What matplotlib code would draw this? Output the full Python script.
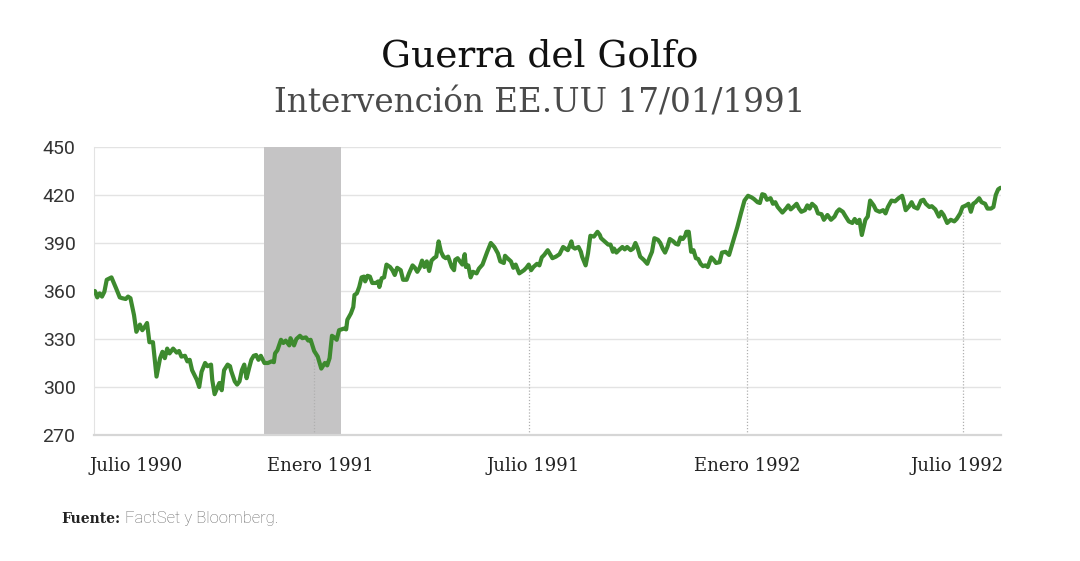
import numpy as np
import pandas as pd
import matplotlib.pyplot as plt
from matplotlib import transforms

# días contados desde el 1 de enero de 1991 y valor del índice
dias = [-185, -183, -181, -179, -177, -175, -171, -169, -167, -164, -162, -159, -157, -155,
        -152, -150, -147, -145, -143, -141, -139, -136, -133, -130, -128, -126, -124, -122,
        -119, -116, -114, -112, -109, -107, -105, -103, -101, -99, -97, -95, -92, -90, -87,
        -86, -84, -82, -80, -78, -76, -73, -71, -70, -67, -65, -63, -61, -59, -57, -55, -53,
        -51, -49, -47, -45, -42, -39, -36, -34, -33, -31, -28, -26, -24, -21, -20, -17, -15,
        -12, -10, -7, -5, -3, 0, 3, 6, 9, 11, 13, 15, 17, 19, 21, 25, 27, 28, 31, 33, 34, 36,
        38, 40, 42, 43, 45, 47, 49, 52, 54, 55, 57, 59, 61, 64, 66, 68, 70, 73, 75, 78, 80,
        83, 85, 87, 89, 91, 93, 95, 97, 99, 101, 103, 105, 107, 109, 111, 113, 116, 118, 119,
        121, 123, 125, 127, 128, 130, 132, 134, 137, 139, 142, 144, 146, 149, 152, 155, 157,
        160, 161, 163, 166, 168, 170, 173, 175, 177, 179, 181, 183, 185, 188, 190, 192, 194,
        197, 199, 201, 204, 207, 210, 212, 214, 217, 218, 220, 223, 225, 226, 229, 231, 233,
        236, 239, 241, 242, 245, 248, 250, 252, 253, 255, 257, 260, 262, 264, 267, 269, 271,
        273, 275, 278, 281, 283, 285, 287, 290, 292, 294, 296, 298, 300, 303, 305, 307, 309,
        311, 313, 314, 316, 318, 320, 322, 324, 326, 328, 330, 332, 335, 337, 339, 342, 344,
        347, 350, 353, 357, 360, 363, 366, 369, 371, 374, 376, 378, 380, 382, 385, 387, 389,
        391, 395, 398, 400, 402, 405, 407, 409, 411, 414, 416, 418, 420, 423, 425, 428, 430,
        433, 436, 439, 441, 443, 446, 448, 451, 454, 456, 458, 460, 462, 465, 467, 469, 472,
        474, 477, 480, 482, 484, 487, 490, 493, 496, 497, 499, 502, 504, 506, 509, 512, 514,
        516, 519, 521, 524, 527, 529, 531, 534, 537, 540, 542, 545, 547, 550, 552, 554, 556,
        558, 561, 563, 566, 568, 571, 573, 575, 577, 579]
valores = [360, 356, 358.5, 356.5, 359.5, 367, 368.5, 365, 361.5, 356, 355.5, 355, 356.5, 355.5,
           345, 334.5, 339, 335.5, 337.5, 340, 328, 328, 306.5, 318, 322, 318, 324, 321,
           324, 321.5, 322.5, 319, 319.5, 316, 317, 310.5, 307.5, 304.5, 300, 309.5, 315, 313, 314,
           304.5, 295.5, 299, 302.5, 298, 310.5, 314, 313, 310, 303.5, 301.5, 303.5, 310.5, 314, 305.5, 311.5, 317,
           319.5, 320, 317, 319.5, 315, 315, 316, 315.5, 321, 323, 329.5, 327.5, 329, 326, 330.5, 326, 330,
           332, 330.5, 331, 329, 329.5, 322.5, 319, 311.5, 315, 313.5, 318, 332, 331, 329.5, 335.5, 336.5, 336, 342, 346, 350, 357.5, 358.5,
           362.5, 368.5, 369, 366, 369.5, 369, 365, 365, 366, 362.5, 368, 368.5, 376.5, 375, 373, 370, 374.5, 373, 367, 367, 371,
           376, 374.5, 372, 374.5, 379, 375, 378.5, 372.5, 379, 380.5, 381.5, 391, 384.5, 381.5, 380.5, 381.5, 375, 373, 379.5,
           380.5, 378.5, 376.5, 383, 375, 376, 368.5, 372, 371, 374, 376.5, 380.5, 384.5, 390, 387.5, 383.5, 378.5,
           377.5, 382, 380.5, 378.5, 374.5, 376.5, 371, 372, 373, 374.5, 376.5, 373, 375, 377, 376, 381, 382.5,
           385.5, 383, 380.5, 381.5, 383, 387.5, 386.5, 385.5, 391, 387.5, 386.5, 387.5, 384.5, 381.5, 376, 383.5, 394.5,
           394, 397, 395, 393, 391, 389, 389, 384.5, 386.5, 384, 385.5, 387.5, 386, 387.5, 385.5, 386.5, 390,
           386.5, 381.5, 379.5, 377, 381, 384.5, 393, 392, 390, 386.5, 384, 387.5, 392.5, 391, 389.5, 389, 393.5,
           392.5, 394.5, 397, 397, 384.5, 385.5, 380.5, 380, 377, 375.5, 376, 375, 381, 379.5, 377.5, 378, 384,
           384.5, 382.5, 390, 400, 408.5, 416.5, 419.5, 418.5, 417.5, 415.5, 415, 420.5, 420, 417, 418, 414.5, 415.5,
           412.5, 409, 411.5, 413.5, 411, 413, 414.5, 411.5, 409.5, 410.5, 413.5, 411.5, 414.5, 412.5, 408.5, 408, 404.5,
           407.5, 404.5, 406.5, 409.5, 411, 409.5, 407, 403.5, 402.5, 405, 402.5, 404.5, 395, 404.5, 406.5, 416.5,
           413.5, 410.5, 409.5, 410.5, 408.5, 412.5, 416.5, 416, 418, 419.5, 417, 410.5, 413, 415.5, 412.5, 411.5, 416.5,
           417, 414.5, 412.5, 413, 411, 406.5, 409.5, 407.5, 402.5, 404.5, 403.5, 405, 408.5, 412.5, 413.5, 414.5, 409.5,
           414.5, 415.5, 418, 415.5, 414.5, 411.5, 411.5, 412.5, 420, 423.5, 424.5]

ticks_fechas = ['1990-07-01', '1991-01-01', '1991-07-01', '1992-01-01', '1992-07-01']
ticks_etiquetas = ['Julio 1990', 'Enero 1991', 'Julio 1991', 'Enero 1992', 'Julio 1992']
y_ticks = [270, 300, 330, 360, 390, 420, 450]
periodo_guerra = ('1990-11-20', '1991-01-24')

titulo = 'Guerra del Golfo'
subtitulo = 'Intervención EE.UU 17/01/1991'

fechas = pd.Timestamp('1991-01-01') + pd.to_timedelta(dias, unit='D')
ticks = pd.to_datetime(ticks_fechas)

fig = plt.figure(figsize=(10.8, 5.61), dpi=100)
ax = fig.add_axes([0.0873, 0.2246, 0.8391, 0.5134])

ax.axvspan(pd.Timestamp(periodo_guerra[0]), pd.Timestamp(periodo_guerra[1]),
           color='#c5c4c5', lw=0, zorder=1)
for v in y_ticks[1:]:
    ax.axhline(v, color='#e3e3e3', lw=1.0, zorder=0)

# lineas punteadas desde el eje hasta la serie en cada inicio de semestre
dias_ticks = (ticks[1:] - pd.Timestamp('1991-01-01')).days.values
altura = np.interp(dias_ticks, dias, valores)
ax.vlines(ticks[1:], 270, altura - 3, color='#b0b0b0', lw=0.9,
          linestyles=(0, (1, 1.5)), zorder=2)

ax.plot(fechas, valores, color='#3d8a2e', lw=3.0, solid_joinstyle='round',
        solid_capstyle='round', zorder=3)

ax.set_xlim(pd.Timestamp('1990-06-29 12:00'), pd.Timestamp('1992-08-02'))
ax.set_ylim(270, 450)
ax.set_yticks(y_ticks)
ax.set_yticklabels([str(v) for v in y_ticks], fontfamily='Roboto', fontsize=14, color='#333333')
ax.set_xticks(ticks)
ax.set_xticklabels(ticks_etiquetas, fontfamily='DejaVu Serif', fontsize=13, color='#222222')
ax.tick_params(axis='both', length=0)
ax.tick_params(axis='x', pad=16)
ax.tick_params(axis='y', pad=13.5)

desplazamientos = [-7, 6, 4, 0, -6]
for lab, dx in zip(ax.get_xticklabels(), desplazamientos):
    lab.set_transform(lab.get_transform() +
                      transforms.ScaledTranslation(dx / 100, 0, fig.dpi_scale_trans))
ax.get_xticklabels()[0].set_horizontalalignment('left')

for s in ['top', 'right']:
    ax.spines[s].set_visible(False)
ax.spines['left'].set_color('#e3e3e3')
ax.spines['bottom'].set_color('#d6d6d6')
ax.spines['bottom'].set_linewidth(1.6)

fig.text(0.5, 0.900, titulo, ha='center', va='center', fontfamily='DejaVu Serif',
         fontsize=27, color='#111111')
fig.text(0.5, 0.815, subtitulo, ha='center', va='center', fontfamily='DejaVu Serif',
         fontsize=23.5, color='#4a4a4a')

t1 = fig.text(0.057, 0.075, 'Fuente:', ha='left', va='center', fontfamily='DejaVu Serif',
              fontweight='bold', fontsize=10, color='#222222')
fig.canvas.draw()
ax.annotate(' FactSet y Bloomberg.', xy=(1, 0), xycoords=t1, va='bottom', ha='left',
            fontfamily='Roboto', fontweight='light', fontsize=12, color='#6a6a6a',
            annotation_clip=False)

fig.savefig('out.png', dpi=100)
